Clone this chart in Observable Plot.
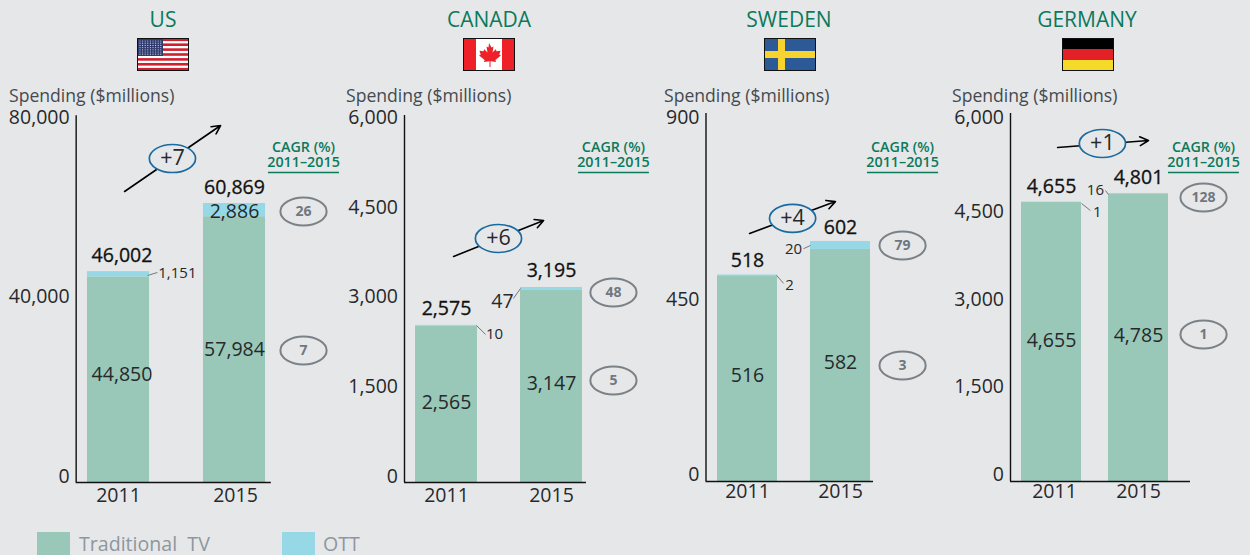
<!DOCTYPE html>
<html><head><meta charset="utf-8">
<script src="https://cdn.jsdelivr.net/npm/d3@7"></script>
<script src="https://cdn.jsdelivr.net/npm/@observablehq/plot@0.6"></script>
<style>
html,body{margin:0;padding:0;background:#e6e7e9;overflow:hidden}
#page{position:relative;width:1250px;height:555px;font-family:"Open Sans",sans-serif;overflow:hidden}
.abs{position:absolute;white-space:pre;line-height:1}
.title{color:#0b7a5b;font-size:21px;transform:translateX(-50%)}
.ylab{color:#444a4f;font-size:17.6px}
.leg{color:#8d979e;font-size:19.6px}
svg.flag{position:absolute;display:block}
</style></head><body><div id="page"></div>
<script>
// ---- data ----
const countries = ["US","CANADA","SWEDEN","GERMANY"];
const years = [2011,2015];
const traditional2011 = [44850,2565,516,4655];
const traditional2015 = [57984,3147,582,4785];
const ott2011 = [1151,10,2,1];
const ott2015 = [2886,47,20,16];
const total2011 = [46002,2575,518,4655];
const total2015 = [60869,3195,602,4801];
const cagrTraditional = [7,5,3,1];
const cagrOtt = [26,48,79,128];
const growth = ["+7","+6","+4","+1"];
const yTicks = [[0,40000,80000],[0,1500,3000,4500,6000],[0,450,900],[0,1500,3000,4500,6000]];
const seriesNames = ["Traditional  TV","OTT"];
// ---- scale setup (data domain -> panel pixels) ----
const panelLeft = [0,340,660,950];
const panelWidth = [340,320,290,300];
const xRange = [[118,234],[106,211],[87,180],[101,188]];
const yTop = [80000,6013,923,6134];
const yRange = [[382,15.3],[382,15],[381,13],[381,13]];
const axisFrom = [2009.54,2009.40,2009.215,2009.115];
const axisTo = [2016.27,2016.33,2016.42,2017.39];
const barHalf = [1.07,1.18,1.29,1.38];
// ---- annotation anchors, in data units ----
const tickNudge = [[-6,-2.6,2],[-6,-4.5,-3,0,1],[-7,-2.6,-5],[-7,-5,-2,0,-4]];
const totalDy = [-16,-16.5,-14,-15.5];
const labelDx = [[3.5,0],[0,0],[0,0],[0,0]];
const yearDx = [[0,1],[0,0],[0,0],[3,0]];
const segLabelY = [[23560,29014],[1311,1622],[266,298],[2350,2434]];
const arrowFrom = [[2011.21,63482],[2011.27,3703],[2011.09,622],[2011.28,5568]];
const arrowTo = [[2014.52,77880],[2014.70,4293],[2014.78,702],[2015.46,5684]];
const growthAt = [[2012.86,70680],[2012.98,3998],[2012.94,660],[2013.34,5634]];
const cagrX = [2017.38,2017.36,2017.67,2017.99];
const cagrHeadY = [71550,5366,819,5443];
const cagrRule = [[2016.17,2018.62,67627],[2016.03,2018.73,5079],[2016.16,2019.22,775],[2016.38,2019.64,5151]];
const cagrOttY = [59119,3113,592,4734];
const cagrTradY = [28796,1671,291,2450];
// small OTT labels: text, x, y, font size, leader x1,y1,x2,y2
const smallLabels = [
 [["1,151",2013.03,45593,15,2012,45157,2012.34,45812],["2,886",2015,59119,19.5,null]],
 [["10",2012.83,2425,15,2012.14,2573,2012.49,2425],["47",2013.13,2966,19.5,2013.55,3015,2013.82,3179]],
 [["2",2012.81,492,15,2012.25,517,2012.55,497],["20",2012.98,582,15,2013.41,584,2013.71,592]],
 [["1",2013.11,4484,15,2012.38,4634,2012.79,4517],["16",2013.02,4851,15,2013.48,4851,2013.62,4784]]
];
const yearDy = [13,13,10,10];
const ink = "#26292b";
const ellipse = {draw(ctx,size){const r=Math.sqrt(size/Math.PI),rx=r*1.65,ry=r,k=0.5523;
  ctx.moveTo(rx,0);
  ctx.bezierCurveTo(rx,ry*k,rx*k,ry,0,ry);ctx.bezierCurveTo(-rx*k,ry,-rx,ry*k,-rx,0);
  ctx.bezierCurveTo(-rx,-ry*k,-rx*k,-ry,0,-ry);ctx.bezierCurveTo(rx*k,-ry,rx,-ry*k,rx,0);ctx.closePath();}};

const page = document.getElementById("page");
function label(cls,text,css){const d=document.createElement("div");d.className="abs "+cls;d.textContent=text;d.style.cssText=css;page.appendChild(d);}

countries.forEach((name,i)=>{
  const bars = [
    {y:years[0],y1:0,y2:traditional2011[i],f:"#99c7b8"},
    {y:years[1],y1:0,y2:traditional2015[i],f:"#99c7b8"},
    {y:years[0],y1:traditional2011[i],y2:total2011[i],f:"#97d8e6"},
    {y:years[1],y1:traditional2015[i],y2:total2015[i],f:"#97d8e6"}];
  const h=barHalf[i];
  const leaders=smallLabels[i].filter(d=>d[4]!=null);
  const plot = Plot.plot({
    width:panelWidth[i],height:415,margin:0,
    style:{background:"transparent",fontFamily:'"Open Sans",sans-serif',overflow:"visible"},
    x:{type:"linear",domain:years,range:xRange[i],axis:null},
    y:{type:"linear",domain:[0,yTop[i]],range:yRange[i],axis:null},
    marks:[
      Plot.rectY(bars,{x1:d=>d.y-h,x2:d=>d.y+h,y1:"y1",y2:"y2",fill:"f",inset:0}),
      Plot.ruleX([axisFrom[i]],{y1:0,y2:yTop[i],stroke:"#111",strokeWidth:1.4}),
      Plot.ruleY([0],{x1:axisFrom[i],x2:axisTo[i],stroke:"#111",strokeWidth:1.4}),
      ...yTicks[i].map((t,k)=>Plot.text([t],{x:axisFrom[i],y:d=>d,dx:-6.5,dy:tickNudge[i][k],text:d=>d3.format(",")(d),textAnchor:"end",fontSize:19.5,fill:ink})),
      ...years.map((yr,k)=>Plot.text([yr],{x:d=>d,y:0,dx:yearDx[i][k],dy:yearDy[i],text:d=>String(d),fontSize:19.5,fill:ink})),
      ...years.map((yr,k)=>Plot.text([[total2011[i],total2015[i]][k]],{x:yr,y:d=>d,dx:labelDx[i][k],dy:totalDy[i],text:d=>d3.format(",")(d),fontSize:19.5,fontWeight:500,stroke:"#111",strokeWidth:0.3,fill:"#111"})),
      ...years.map((yr,k)=>Plot.text([[traditional2011[i],traditional2015[i]][k]],{x:yr,y:segLabelY[i][k],dx:labelDx[i][k],text:d=>d3.format(",")(d),fontSize:19.5,fill:ink})),
      Plot.link(leaders,{x1:d=>d[4],y1:d=>d[5],x2:d=>d[6],y2:d=>d[7],stroke:"#777",strokeWidth:1}),
      Plot.text(smallLabels[i],{x:d=>d[1],y:d=>d[2],text:d=>d[0],fontSize:d=>d[3],fill:ink}),
      Plot.arrow([0],{x1:arrowFrom[i][0],y1:arrowFrom[i][1],x2:arrowTo[i][0],y2:arrowTo[i][1],bend:0,stroke:"#000",strokeWidth:1.6,headLength:9,headAngle:55}),
      Plot.dot([0],{x:growthAt[i][0],y:growthAt[i][1],r:14,symbol:ellipse,stroke:"#1b6aa0",strokeWidth:1.7,fill:"#e6e7e9"}),
      Plot.text([growth[i]],{x:growthAt[i][0],y:growthAt[i][1],text:d=>d,fontSize:21.5,fill:ink}),
      Plot.text(["CAGR (%)\n2011–2015"],{x:cagrX[i],y:cagrHeadY[i],text:d=>d,fontSize:14.3,lineHeight:1.02,fontWeight:600,fill:"#0b7a5b"}),
      Plot.ruleY([cagrRule[i][2]],{x1:cagrRule[i][0],x2:cagrRule[i][1],stroke:"#0b7a5b",strokeWidth:1.5}),
      Plot.dot([cagrOttY[i],cagrTradY[i]],{x:cagrX[i],y:d=>d,r:14,symbol:ellipse,stroke:"#7a8288",strokeWidth:2,fill:"none"}),
      ...[0,1].map(k=>Plot.text([[cagrOtt[i],cagrTraditional[i]][k]],{x:cagrX[i],y:[cagrOttY[i],cagrTradY[i]][k],text:d=>String(d),fontSize:14,fontWeight:700,fill:"#6f7780"}))
    ]
  });
  plot.style.position="absolute";plot.style.left=panelLeft[i]+"px";plot.style.top="100px";
  page.appendChild(plot);
});

// titles, y labels
[163,489,789,1087].forEach((x,i)=>label("title",countries[i],`left:${x}px;top:9px`));
[9,346,664,952].forEach(x=>label("ylab","Spending ($millions)",`left:${x}px;top:87px`));

// flags
function flag(left,inner){const s=`<svg class="flag" style="left:${left}px;top:38px" width="52" height="33" viewBox="0 0 52 33" xmlns="http://www.w3.org/2000/svg">${inner}<rect x=".5" y=".5" width="51" height="32" fill="none" stroke="#111"/></svg>`;page.insertAdjacentHTML("beforeend",s);}
let us='<rect width="52" height="33" fill="#fff"/>';
for(let k=0;k<7;k++)us+=`<rect y="${k*4.9+.5}" width="52" height="2.6" fill="#d0202e"/>`;
us+='<rect x="1" y="1" width="25" height="17" fill="#2f3a6e"/>';
for(let r=0;r<7;r++)for(let c=0;c<9;c++)us+=`<circle cx="${3+c*2.6}" cy="${3+r*2.2}" r=".6" fill="#c9cde0"/>`;
flag(137,us);
flag(463,'<rect width="52" height="33" fill="#fff"/><rect width="13" height="33" fill="#ee2129"/><rect x="39" width="13" height="33" fill="#ee2129"/><path fill="#ee2129" d="M26 5l2.5 4.5 2-1-1 6 3.2-3.2 .8 2 4-.6-1.2 3.8 1.6 1-5.5 4.5 .6 2-5.5-.8V29h-1v-5.8l-5.5 .8 .6-2-5.5-4.5 1.6-1-1.2-3.8 4 .6 .8-2 3.2 3.2-1-6 2 1z"/>');
flag(764,'<rect width="52" height="33" fill="#2c5a96"/><rect x="14" width="7" height="33" fill="#f6d32d"/><rect y="13" width="52" height="7" fill="#f6d32d"/>');
flag(1062,'<rect width="52" height="11" fill="#000"/><rect y="11" width="52" height="11" fill="#e32028"/><rect y="22" width="52" height="11" fill="#f6da2a"/>');

// legend
page.insertAdjacentHTML("beforeend",'<div class="abs" style="left:37px;top:532px;width:33px;height:23px;background:#99c7b8"></div><div class="abs" style="left:282px;top:532px;width:33px;height:23px;background:#97d8e6"></div>');
label("leg",seriesNames[0],"left:79px;top:533.5px");
label("leg",seriesNames[1],"left:323px;top:533.5px");
</script></body></html>
